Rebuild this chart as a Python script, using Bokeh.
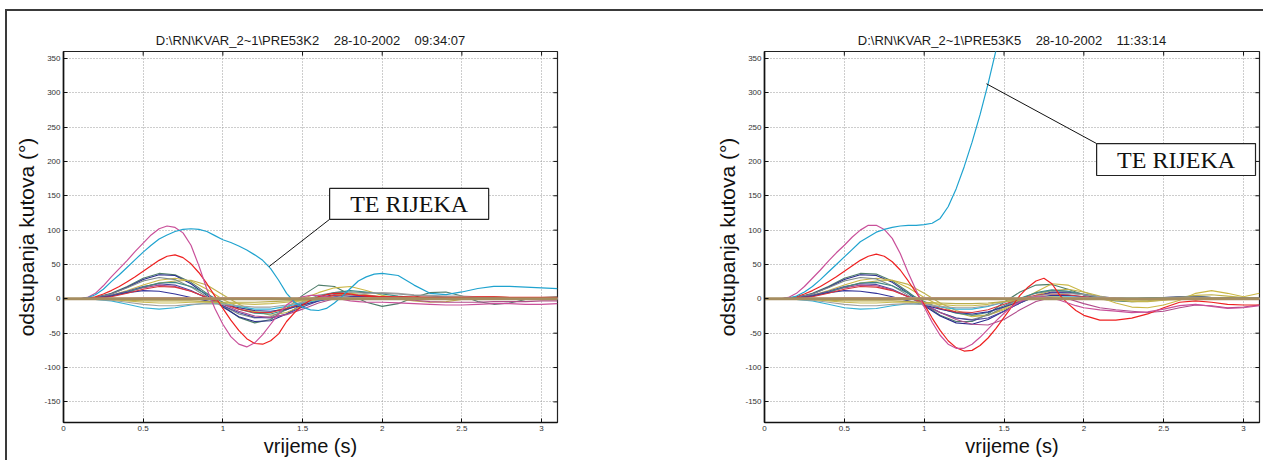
from bokeh.plotting import figure
from bokeh.layouts import row
from bokeh.models import Range1d, FixedTicker, BoxAnnotation, Label, Title
from bokeh.embed import file_html
from bokeh.resources import INLINE

# ---------------- data ----------------
SP = "\u00a0\u00a0\u00a0\u00a0"
title_left = "D:\\RN\\KVAR_2~1\\PRE53K2" + SP + "28-10-2002" + SP + "09:34:07"
title_right = "D:\\RN\\KVAR_2~1\\PRE53K5" + SP + "28-10-2002" + SP + "11:33:14"
x_label = "vrijeme (s)"
y_label = "odstupanja kutova (°)"
annot_text = "TE RIJEKA"

x_ticks = [0, 0.5, 1, 1.5, 2, 2.5, 3]
x_tick_labels = ["0", "0.5", "1", "1.5", "2", "2.5", "3"]
y_ticks = [-150, -100, -50, 0, 50, 100, 150, 200, 250, 300, 350]
y_tick_labels = ["-150", "-100", "-50", "0", "50", "100", "150", "200", "250", "300", "350"]

# fine time grid for the prominent curves
t_fine = [0.0, 0.05, 0.1, 0.15, 0.2, 0.25, 0.3, 0.35, 0.4, 0.45,
          0.5, 0.55, 0.6, 0.65, 0.7, 0.75, 0.8, 0.85, 0.9, 0.95,
          1.0, 1.05, 1.1, 1.15, 1.2, 1.25, 1.3, 1.35, 1.4, 1.45,
          1.5, 1.55, 1.6, 1.65, 1.7, 1.75, 1.8, 1.85, 1.9, 1.95,
          2.0, 2.1, 2.2, 2.3, 2.4, 2.5, 2.6, 2.7, 2.8, 2.9, 3.0, 3.1]
# coarse time grid for the bundle of generators
t_coarse = [0.0, 0.1, 0.2, 0.3, 0.4, 0.5, 0.6, 0.7, 0.8, 0.9,
            1.0, 1.1, 1.2, 1.3, 1.4, 1.5, 1.6, 1.7, 1.8, 1.9,
            2.0, 2.1, 2.2, 2.3, 2.4, 2.5, 2.6, 2.7, 2.8, 2.9, 3.0, 3.1]
t_flat = [0.0, 3.1]
v_flat = [0, 0]

# ---- left panel (PRE53K2) ----
L_cyan = [0, 0, 0, 1.5, 6, 14, 25, 35, 46, 57, 68, 78, 87, 93, 98, 101, 102, 101, 98, 92,
          86, 82, 77, 71, 64, 56, 44, 27, 8, -5, -12, -16, -17, -14, -6, 4, 15, 26, 32, 36,
          37, 34, 20, 8, 6, 10, 15, 18, 18, 17, 16, 15]
L_magenta = [0, 0, 0, 2, 8, 19, 32, 44, 56, 69, 81, 93, 102, 106, 104, 96, 78, 48, 14, -14,
             -37, -55, -66, -70, -64, -52, -37, -22, -9, -1, 3, 5, 5, 3, 1, -1, -3, -4, -5, -5,
             -5, -6, -7, -8, -9, -9, -8, -7, -7, -8, -8, -7]
L_red = [0, 0, 0, 1, 3, 7, 12, 18, 25, 32, 40, 48, 56, 62, 64, 60, 51, 38, 22, 4,
         -14, -31, -46, -58, -65, -66, -61, -51, -33, -20, -9, -2, 3, 6, 8, 8, 7, 5, 4, 3,
         3, 3, 3, 2, 2, 2, 3, 3, 2, 2, 2, 2]

L_green = [0, 0, 2, 8, 18, 30, 37, 35, 24, 8, -10, -27, -35, -30, -14, 5, 20, 18, 6, -5,
           -11, -7, 2, 9, 10, 4, -4, -8, -6, -1, 2, 3]
L_navy = [0, 0, 2, 7, 17, 28, 35, 34, 22, 5, -12, -26, -33, -32, -22, -8, 2, 6, 5, 3,
          2, 1, 0, 1, 2, 2, 1, 0, 0, 1, 1, 1]
L_olive = [0, 0, 1, 5, 12, 20, 27, 30, 26, 14, -1, -12, -19, -20, -12, 0, 9, 16, 18, 12,
           5, 1, -1, 0, 2, 3, 2, 1, 0, 0, 1, 1]
L_olive2 = [0, 0, 1, 4, 10, 17, 23, 26, 27, 20, 6, -8, -18, -24, -20, -10, -1, 5, 8, 6,
            3, 0, -3, -5, -4, -1, 2, 3, 2, 1, 0, 0]
L_gray = [0, 0, 2, 7, 16, 26, 31, 28, 17, 3, -10, -22, -28, -26, -16, -4, 5, 9, 10, 9,
          8, 7, 5, 4, 3, 2, 2, 1, 1, 1, 1, 1]
L_violet = [0, 0, 1, 5, 11, 18, 22, 20, 12, 1, -10, -20, -27, -28, -22, -12, -3, 3, 5, 4,
            3, 2, 2, 1, 1, 1, 0, 0, 0, 0, 0, 0]
L_purple = [0, 0, 1, 4, 10, 16, 20, 18, 11, 2, -8, -18, -25, -27, -23, -15, -6, 0, 3, 3,
            2, 0, -2, -4, -5, -5, -5, -4, -4, -4, -3, -3]
L_teal = [0, 0, 1, 4, 10, 17, 23, 24, 18, 7, -5, -15, -21, -22, -16, -6, 3, 9, 12, 10,
          7, 4, 2, 1, 1, 2, 2, 2, 1, 1, 1, 1]
L_navy2 = [0, 0, 1, 4, 9, 12, 11, 7, 2, -3, -8, -13, -17, -18, -15, -9, -3, 1, 3, 3,
           2, 1, 1, 0, 0, 0, 0, 0, 0, 0, 0, 0]
L_red2 = [0, 0, 1, 3, 8, 14, 18, 17, 11, 2, -7, -15, -20, -20, -14, -6, 1, 5, 6, 5,
          3, 2, 1, 1, 1, 1, 1, 1, 1, 1, 1, 1]
L_cyan2 = [0, 0, -1, -3, -8, -13, -15, -13, -9, -6, -7, -11, -15, -15, -11, -6, -2, 1, 2, 2,
           1, 1, 0, 0, 0, 0, 0, 0, 0, 0, 0, 0]
L_gray2 = [0, 0, -1, -2, -5, -8, -10, -10, -8, -7, -8, -10, -12, -12, -9, -5, -1, 2, 5, 8,
           9, 8, 6, 5, 4, 4, 3, 3, 2, 2, 2, 2]
L_olive3 = [0, 0, 0, -1, -3, -5, -6, -6, -5, -5, -6, -7, -8, -7, -5, -3, -1, 0, 1, 1,
            1, 1, 1, 1, 0, 0, 0, 0, 0, 0, 0, 0]
L_olive4 = [0, 0, 0, -1, -2, -3, -3, -3, -3, -4, -5, -5, -5, -4, -3, -2, -1, 0, 0, 0,
            0, 0, 0, 0, 0, 0, 0, 0, 0, 0, 0, 0]
L_pink = [0, 0, 0, 1, 1, 2, 2, 2, 2, 2, 2, 2, 2, 2, 1, 1, 1, 1, 1, 1,
          1, 0, 0, 0, 0, 0, 0, 0, 0, 0, 0, 0]

# ---- right panel (PRE53K5) ----
t_cyan_r = [0.0, 0.05, 0.1, 0.15, 0.2, 0.25, 0.3, 0.35, 0.4, 0.45,
            0.5, 0.55, 0.6, 0.65, 0.7, 0.75, 0.8, 0.85, 0.9, 0.95,
            1.0, 1.05, 1.1, 1.15, 1.2, 1.25, 1.3, 1.35, 1.4, 1.45, 1.5, 1.55]
R_cyan = [0, 0, 0, 1, 4, 10, 18, 28, 39, 50, 61, 72, 83, 90, 97, 101, 104, 106, 107, 107,
          108, 110, 117, 134, 160, 192, 228, 268, 313, 362, 412, 462]
R_magenta = [0, 0, 0, 2, 8, 18, 30, 42, 55, 67, 78, 90, 100, 107, 107, 101, 88, 66, 38, 12,
             -12, -34, -53, -66, -72, -72, -66, -56, -44, -32, -21, -11, -4, 1, 3, 3, 1, -2, -6, -10,
             -13, -16, -18, -20, -19, -15, -10, -8, -11, -14, -13, -10]
R_red = [0, 0, 0, 1, 3, 7, 12, 18, 25, 32, 40, 48, 56, 62, 65, 62, 54, 42, 26, 9,
         -8, -28, -46, -61, -71, -76, -75, -68, -57, -43, -27, -11, 5, 17, 26, 30, 22, 5, -7, -17,
         -24, -31, -31, -28, -22, -13, -5, -3, -5, -8, -9, -9]

R_green = [0, 0, 2, 8, 18, 30, 37, 36, 26, 10, -8, -24, -33, -33, -22, -5, 10, 20, 21, 14,
           6, 0, -3, -4, -3, 0, 3, 4, 2, 0, 0, 1]
R_navy = [0, 0, 2, 7, 17, 28, 35, 34, 24, 8, -10, -25, -35, -37, -30, -18, -6, 4, 10, 10,
          6, 3, 1, 0, 1, 2, 3, 3, 2, 1, 1, 1]
R_olive = [0, 0, 1, 5, 12, 20, 27, 30, 27, 16, 2, -10, -20, -26, -24, -14, -2, 10, 22, 20,
           10, 2, -6, -12, -13, -9, -2, 8, 12, 8, 3, 8]
R_olive2 = [0, 0, 1, 4, 10, 17, 23, 26, 27, 21, 8, -6, -17, -24, -24, -16, -5, 5, 12, 14,
            10, 4, -1, -4, -4, -2, 2, 5, 6, 4, 2, 1]
R_gray = [0, 0, 2, 7, 16, 26, 31, 29, 19, 5, -8, -20, -28, -30, -24, -12, 0, 8, 12, 11,
          7, 3, 0, -1, 0, 2, 3, 3, 2, 1, 1, 1]
R_violet = [0, 0, 1, 5, 11, 18, 22, 21, 14, 3, -9, -20, -28, -31, -28, -18, -6, 4, 9, 9,
            6, 2, 0, -1, 0, 1, 2, 2, 1, 1, 1, 1]
R_purple = [0, 0, 1, 4, 10, 16, 20, 19, 13, 3, -8, -20, -30, -37, -38, -30, -16, -4, 2, 0,
            -7, -13, -16, -18, -20, -18, -13, -9, -10, -13, -12, -9]
R_teal = [0, 0, 1, 4, 10, 17, 23, 24, 19, 8, -4, -14, -21, -24, -20, -10, 1, 9, 13, 11,
          6, 2, 0, 0, 1, 2, 2, 1, 1, 1, 1, 1]
R_navy2 = [0, 0, 1, 4, 9, 12, 11, 8, 3, -3, -9, -15, -20, -22, -19, -12, -4, 2, 5, 5,
           3, 1, 0, 0, 0, 0, 0, 0, 0, 0, 0, 0]
R_red2 = [0, 0, 1, 3, 8, 14, 18, 17, 12, 3, -6, -14, -19, -20, -16, -8, 0, 5, 7, 6,
          3, 1, 0, 0, 0, 0, 0, 0, 0, 0, 0, 0]
R_cyan2 = [0, 0, -1, -3, -8, -13, -15, -14, -10, -7, -8, -12, -15, -15, -11, -5, 0, 2, 3, 3,
           2, 1, 1, 1, 1, 1, 1, 1, 1, 0, 0, 0]
R_gray2 = [0, 0, -1, -2, -5, -8, -10, -10, -8, -7, -8, -11, -13, -13, -10, -5, 0, 4, 7, 8,
           6, 3, 1, 0, 0, 1, 2, 2, 2, 1, 1, 1]
R_olive3 = [0, 0, 0, -1, -3, -5, -6, -6, -5, -5, -6, -8, -10, -10, -8, -4, 0, 2, 3, 2,
            0, -1, -2, -3, -3, -2, -1, 0, 0, 0, 0, 0]
R_olive4 = [0, 0, 0, -1, -2, -3, -3, -3, -3, -4, -5, -6, -7, -7, -6, -4, -2, 0, 1, 1,
            1, 0, 0, 0, 0, 0, 0, 0, 0, 0, 0, 0]
R_pink = [0, 0, 0, 1, 1, 2, 2, 2, 2, 2, 2, 2, 2, 2, 2, 1, 1, 1, 1, 1,
          1, 1, 1, 0, 0, 0, 0, 0, 0, 0, 0, 0]

# ---------------- styling ----------------
FONT = "Liberation Sans"
C = {
    "cyan": "#1fa3cf", "magenta": "#c9509a", "red": "#ee2020", "green": "#4e7d6a",
    "navy": "#2a2d8c", "olive": "#cbb845", "olive2": "#bfb04a", "gray": "#7f8a88",
    "violet": "#4b45a0", "purple": "#b14c8c", "teal": "#3f8a84", "navy2": "#33339a",
    "red2": "#d8343c", "cyan2": "#36b2d6", "gray2": "#a0a0a0", "olive3": "#c9bb55",
    "olive4": "#b9ad4a", "pink": "#eca5b5", "flat": "#a58d5f",
}

X0, X1, Y0, Y1 = 0, 3.1, -180, 360
FIG_H = 449
TICK_DX = 0.026   # ~4 px in x data units
TICK_DY = 6.0     # ~4 px in y data units


def build(title, width, bl, br, bundle, majors, box, conn):
    p = figure(width=width, height=FIG_H, x_range=Range1d(X0, X1), y_range=Range1d(Y0, Y1),
               output_backend="svg", toolbar_location=None,
               min_border_left=bl, min_border_right=br, min_border_top=40, min_border_bottom=38,
               background_fill_color="white", border_fill_color="white")
    p.title = Title(text=title, align="center", text_font=FONT, text_font_size="13px",
                    text_font_style="normal", text_color="#1a1a1a", standoff=7)

    xax = p.below[0]
    yax = p.left[0]
    xax.ticker = FixedTicker(ticks=x_ticks)
    yax.ticker = FixedTicker(ticks=y_ticks)
    xax.major_label_overrides = {t: s for t, s in zip(x_ticks, x_tick_labels)}
    yax.major_label_overrides = {t: s for t, s in zip(y_ticks, y_tick_labels)}
    xax.axis_label = x_label
    yax.axis_label = y_label
    for ax in (xax, yax):
        ax.axis_line_color = "#111111"
        ax.axis_line_width = 1.6
        ax.major_tick_in = 4
        ax.major_tick_out = 0
        ax.major_tick_line_color = "#111111"
        ax.minor_tick_line_color = None
        ax.major_label_text_font = FONT
        ax.major_label_text_font_size = "8px"
        ax.major_label_text_color = "#333333"
        ax.major_label_standoff = 3
        ax.axis_label_text_font = FONT
        ax.axis_label_text_font_size = "20px"
        ax.axis_label_text_font_style = "normal"
        ax.axis_label_text_color = "#111111"
    xax.axis_label_standoff = 1
    yax.axis_label_standoff = 3
    yax.axis_label_text_font_size = "21px"

    for g in (p.xgrid[0], p.ygrid[0]):
        g.grid_line_color = "#9a9a9a"
        g.grid_line_dash = "1 2"
        g.grid_line_width = 1
    p.outline_line_color = "#222222"
    p.outline_line_width = 1.2

    # inward ticks on the top and right edges (MATLAB box)
    p.segment(x0=x_ticks, y0=[Y1 - TICK_DY] * len(x_ticks), x1=x_ticks, y1=[Y1] * len(x_ticks),
              line_color="#111111", line_width=1)
    p.segment(x0=[X1 - TICK_DX] * len(y_ticks), y0=y_ticks, x1=[X1] * len(y_ticks), y1=y_ticks,
              line_color="#111111", line_width=1)

    for v, col in bundle:
        p.line(t_coarse, v, line_color=C[col], line_width=1.1)
    for t, v, col in majors:
        p.line(t, v, line_color=C[col], line_width=1.2)
    p.line(t_flat, v_flat, line_color=C["flat"], line_width=3)

    # annotation
    p.line(conn[0], conn[1], line_color="#111111", line_width=1)
    l, r, b, tp = box
    p.add_layout(BoxAnnotation(left=l, right=r, bottom=b, top=tp, fill_color="white",
                               fill_alpha=1, line_color="#222222", line_width=1.2,
                               line_alpha=1))
    p.add_layout(Label(x=(l + r) / 2, y=(b + tp) / 2, text=annot_text,
                       text_font="Liberation Serif", text_font_size="24px",
                       text_align="center", text_baseline="middle", text_color="#111111"))
    return p


left_bundle = [(L_green, "green"), (L_navy, "navy"), (L_olive, "olive"), (L_olive2, "olive2"),
               (L_gray, "gray"), (L_violet, "violet"), (L_purple, "purple"), (L_teal, "teal"),
               (L_navy2, "navy2"), (L_red2, "red2"), (L_cyan2, "cyan2"), (L_gray2, "gray2"),
               (L_olive3, "olive3"), (L_olive4, "olive4"), (L_pink, "pink")]
right_bundle = [(R_green, "green"), (R_navy, "navy"), (R_olive, "olive"), (R_olive2, "olive2"),
                (R_gray, "gray"), (R_violet, "violet"), (R_purple, "purple"), (R_teal, "teal"),
                (R_navy2, "navy2"), (R_red2, "red2"), (R_cyan2, "cyan2"), (R_gray2, "gray2"),
                (R_olive3, "olive3"), (R_olive4, "olive4"), (R_pink, "pink")]

p1 = build(title_left, 693, 56, 143, left_bundle,
           [(t_fine, L_red, "red"), (t_fine, L_magenta, "magenta"), (t_fine, L_cyan, "cyan")],
           (1.67, 2.668, 115.7, 160.7), ([1.29, 1.67], [47, 115.7]))
p2 = build(title_right, 563, 64, 4, right_bundle,
           [(t_fine, R_red, "red"), (t_fine, R_magenta, "magenta"), (t_cyan_r, R_cyan, "cyan")],
           (2.08, 3.075, 179.5, 226), ([1.39, 2.08], [313, 226]))

layout = row(p1, p2, styles={"border-left": "2px solid #3a3a3a", "border-top": "2px solid #3a3a3a",
                             "margin-left": "5px", "margin-top": "9px"})

open("out.html", "w").write(file_html(layout, INLINE))
